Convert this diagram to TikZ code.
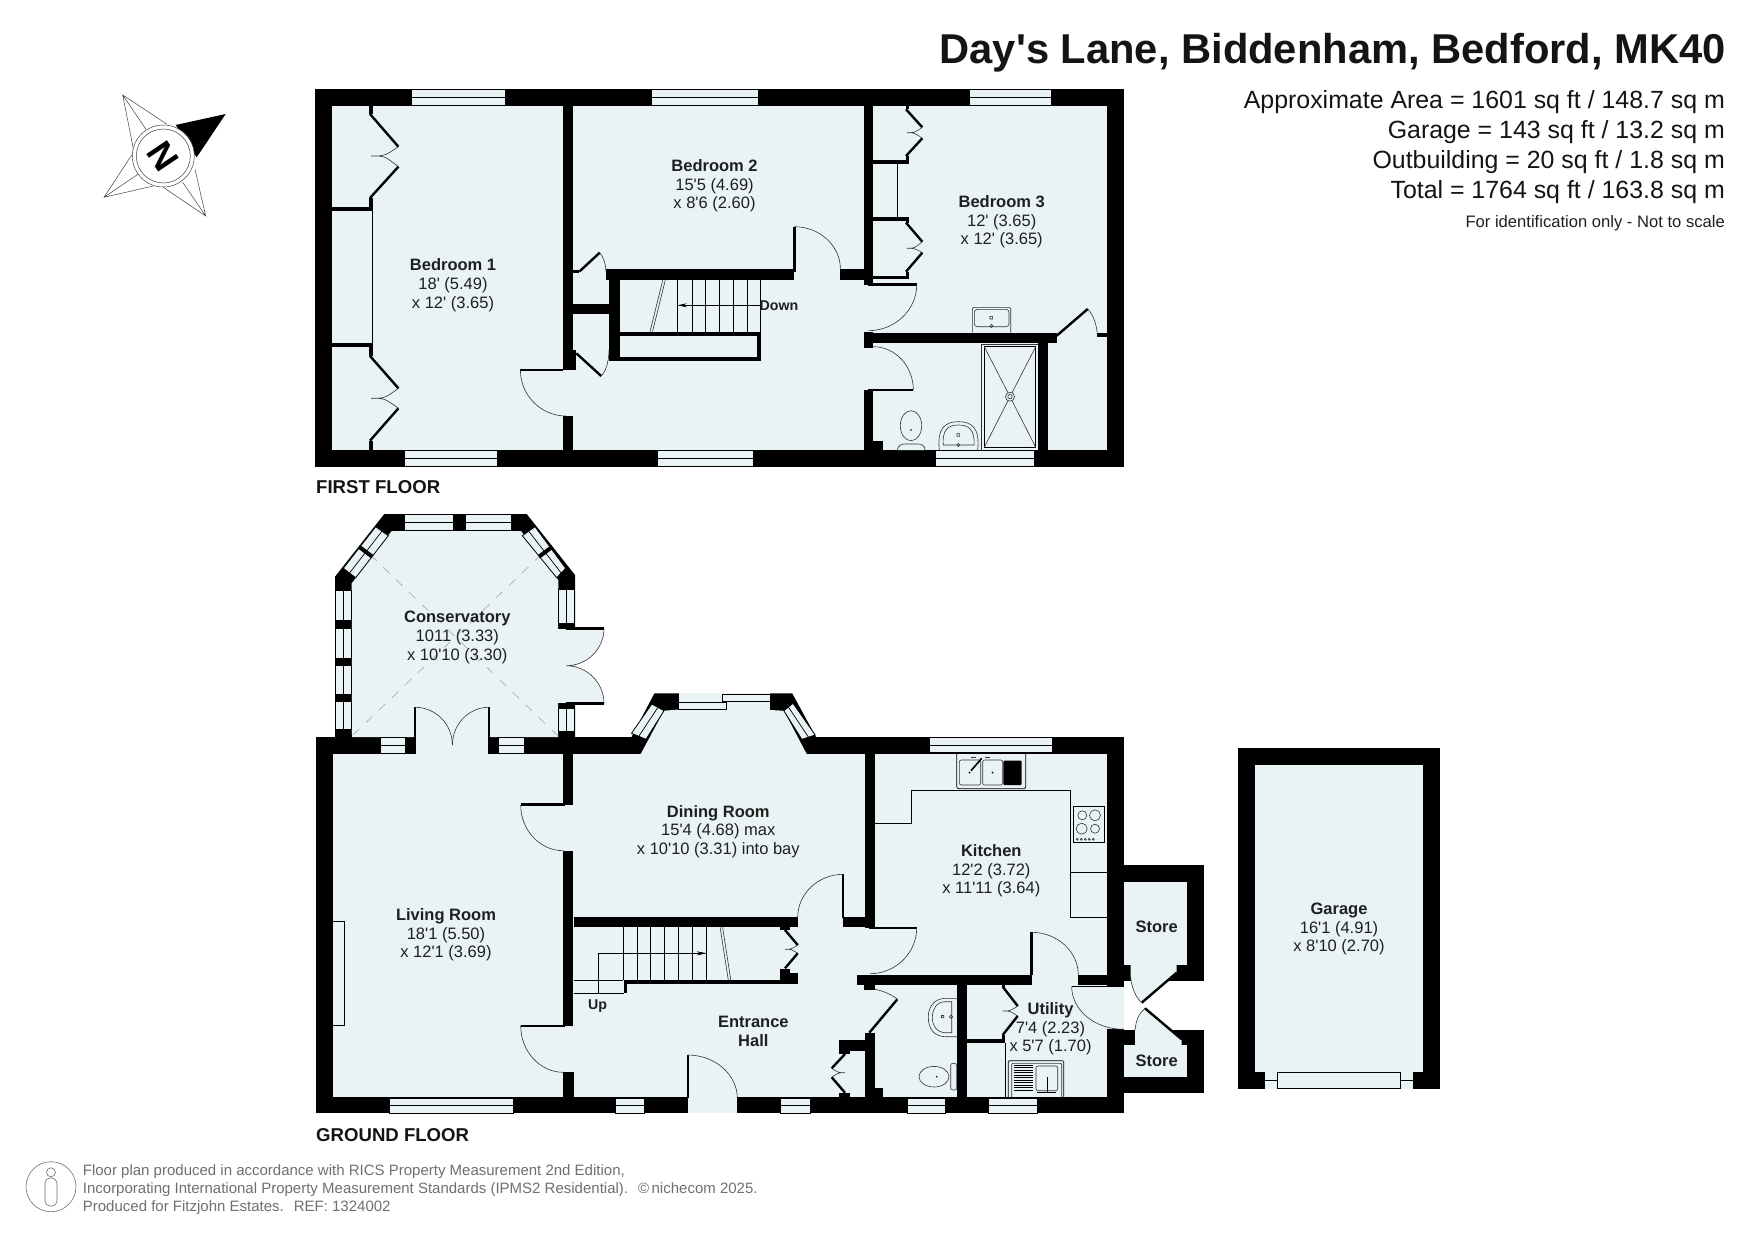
\documentclass[tikz,border=0pt]{standalone}
\usepackage{fontspec}
\setmainfont{Liberation Sans}[Ligatures=TeXOff]
\usetikzlibrary{arrows.meta, calc}
\definecolor{floortint}{HTML}{E9F3F5}
\definecolor{footgray}{HTML}{6F6F6F}
\tikzset{
  wallfill/.style={fill=black},
  floorfill/.style={fill=floortint},
  thinline/.style={draw=black, line width=0.7pt},
  arcline/.style={draw=black!80, line width=0.6pt},
  leafline/.style={draw=black, line width=2.4pt},
  paneline/.style={draw=black, line width=0.8pt, fill=floortint},
  roomlabel/.style={font=\fontsize{16.5}{18.7}\selectfont, align=center, inner sep=0pt, yshift=-2.5pt, text=black!88},
  storelabel/.style={roomlabel, font=\fontsize{16.5}{18.7}\selectfont\bfseries},
  floorlabel/.style={font=\fontsize{18.6}{20}\selectfont\bfseries, anchor=west, inner sep=0pt, text=black!92},
  areatext/.style={font=\fontsize{24.9}{28}\selectfont, anchor=east, inner sep=0pt, text=black!92},
  footnote/.style={font=\fontsize{15}{18}\selectfont, anchor=west, inner sep=0pt, text=footgray}
}
% door swing: from a to b, bulging towards corner k
\newcommand{\swing}[6]{\draw[arcline] (#1,#2) .. controls ($(#1,#2)!0.55!(#5,#6)$) and ($(#3,#4)!0.55!(#5,#6)$) .. (#3,#4);}
% window: pane with a centre line
\newcommand{\hpane}[4]{\draw[paneline] (#1,#2) rectangle (#3,#4); \draw[thinline] (#1,{0.5*(#2+#4)}) -- (#3,{0.5*(#2+#4)});}
\newcommand{\vpane}[4]{\draw[paneline] (#1,#2) rectangle (#3,#4); \draw[thinline] ({0.5*(#1+#3)},#2) -- ({0.5*(#1+#3)},#4);}
% slanted window: outer edge a-b, inner edge c-d
\newcommand{\slantpane}[8]{\draw[paneline] (#1,#2) -- (#3,#4) -- (#7,#8) -- (#5,#6) -- cycle; \draw[thinline] ($(#1,#2)!0.5!(#5,#6)$) -- ($(#3,#4)!0.5!(#7,#8)$);}
% folding doors: wall x, fold x, tip x, then y of the five points
\newcommand{\bifold}[8]{
  \draw[leafline] (#1,#4) -- (#2,#5);
  \draw[arcline] (#2,#5) .. controls ({0.5*(#2+#3)},#6) .. (#3,#6) .. controls ({0.5*(#2+#3)},#6) .. (#2,#7);
  \draw[leafline] (#2,#7) -- (#1,#8);
}
\newcommand{\room}[6]{\node[roomlabel] (#1) at (#2,#3) {\textbf{#4}\\#5\\#6};}

\begin{document}
\begin{tikzpicture}[x=1pt,y=-1pt]
\useasboundingbox (0,0) rectangle (1755,1241);

% Title and areas
\node[font=\fontsize{41.7}{44}\selectfont\bfseries, anchor=east, inner sep=0pt, text=black!92] (title) at (1726,52.8) {Day's Lane, Biddenham, Bedford, MK40};
\node[areatext] (areamain) at (1725,101.8) {Approximate Area = 1601 sq ft / 148.7 sq m};
\node[areatext] (areagarage) at (1725,132.5) {Garage = 143 sq ft / 13.2 sq m};
\node[areatext] (areaout) at (1725,162.3) {Outbuilding = 20 sq ft / 1.8 sq m};
\node[areatext] (areatotal) at (1725,192.3) {Total = 1764 sq ft / 163.8 sq m};
\node[font=\fontsize{16.6}{19}\selectfont, anchor=east, inner sep=0pt, text=black!88] (areanote) at (1725,223.5) {For identification only - Not to scale};

% Compass
\fill[black] (175.7,125) -- (225.7,114) -- (196.7,157.3) -- cycle;
\foreach \tx/\ty/\ax/\ay/\bx/\by/\cx/\cy in {122.7/95/166.7/124/133.3/148.3/146/129.3,
    104/197.3/131.7/155/153.3/186/138.3/174,
    205.7/216/163.3/187.3/195/169.3/182.7/182.3} {
  \draw[black!75, line width=0.5pt] (\ax,\ay) -- (\tx,\ty) -- (\bx,\by) (\tx,\ty) -- (\cx,\cy);
}
\draw[black!75, line width=0.5pt, fill=white] (163.3,156) circle (31);
\draw[black!75, line width=0.5pt] (163.3,156) circle (27);
\node[font=\fontsize{36}{36}\selectfont\bfseries, rotate=-56, inner sep=0pt] (north) at (163.3,156) {N};

% ---- First floor ----
\fill[wallfill] (315.3,89) rectangle (1124,466.7);
\fill[floorfill] (331.8,105.7) rectangle (1107,450);
\foreach \xa/\ya/\xb/\yb in {563.3/105.7/572.9/370, 572.9/350/576.3/370, 563.3/416/572.9/450,
    606/269/793.7/280, 609/280/619.6/360.7, 609/357/761/360.7, 757.3/335/761/360.7,
    619.6/331.7/761/335.7, 573/304/609/313.7, 573/270.5/579.4/273,
    840.4/269/864/280, 864/105.7/873.3/285, 864/331.7/873.3/347.7, 864/332.7/1056.7/343.3,
    1097.3/333/1107/336.7, 1038.3/343/1047.7/450, 864/390/873.3/450, 873.3/440.7/882.7/450,
    369/105.7/372.7/114, 369/198/372.7/206.7, 331.8/206.7/372.7/210.7,
    331.8/342.7/372.7/346.7, 369/346.7/372.7/356, 369/440.7/372.7/450,
    905.7/105.7/909/109.3, 873.3/160/909/164, 905.7/156/909/160,
    873.3/216.7/909/220.7, 905.7/220.7/909/222.7, 905.7/271.7/909/275.7, 873.3/275.7/909/279.3} {
  \fill[wallfill] (\xa,\ya) rectangle (\xb,\yb);
}
% windows
\foreach \xa/\xb in {411.7/505.1, 651/758, 969/1051} { \hpane{\xa}{89.5}{\xb}{105.3} }
\foreach \xa/\xb in {404.5/497, 657/753, 935/1034} { \hpane{\xa}{450}{\xb}{466.5} }
% wardrobes
\draw[thinline] (372.7,210.7) -- (372.7,342.7);
\draw[thinline] (897.3,164) -- (897.3,216.7);
\bifold{370}{398.4}{371}{114}{146.7}{156}{166.7}{198}
\bifold{370}{398.4}{371}{356}{388.3}{398.3}{408.3}{440.7}
\bifold{906}{922.3}{906.7}{109.3}{127.3}{132.7}{138.3}{156}
\bifold{906}{922.3}{906.7}{222.7}{241.7}{248.3}{252.7}{271.7}
% doors
\draw[leafline] (520.4,370) -- (563.3,370);
\swing{520.4}{370}{566}{416}{520.4}{416}
\draw[leafline] (794.4,226.7) -- (794.4,272);
\swing{794.4}{226.7}{840.4}{269}{840.4}{226.7}
\draw[leafline] (868.3,284.3) -- (916.7,284.3);
\swing{916.7}{284.7}{868.3}{330.7}{916.7}{330.7}
\draw[leafline] (868.3,390) -- (913.3,390);
\swing{873.3}{346.7}{913.3}{390}{913.3}{346.7}
\draw[leafline] (1056.7,335.7) -- (1087.7,309);
\swing{1087.7}{309}{1097.3}{335.7}{1097.3}{318}
\draw[leafline] (579.4,271.5) -- (599.7,252.7);
\swing{599.7}{252.7}{606}{271.7}{606}{259}
\draw[leafline] (576.3,353.3) -- (601.2,376);
\swing{601.2}{376}{609}{350}{609}{370}
% stairs
\foreach \x in {677.7,691.9,705.7,719.8,733.2,747,760.7} { \draw[thinline] (\x,280) -- (\x,331.7); }
\draw[thinline, -{Stealth[length=9pt,width=4pt]}] (760.7,305.3) -- (677.7,305.3);
\draw[arcline] (662.8,280) -- (650,331.7) (665.3,280) -- (652.5,331.7);
\node[font=\fontsize{14.2}{16}\selectfont\bfseries, inner sep=0pt, text=black!88] (down) at (779,305.3) {Down};
% bedroom 3 basin
\draw[arcline, rounded corners=2pt] (972.3,332.7) -- (972.3,307.3) -- (1010.7,307.3) -- (1010.7,332.7);
\draw[arcline, rounded corners=3pt] (974.3,309.3) rectangle (1009,326.7);
\draw[arcline] (990,316.3) rectangle (992.6,319) (991.3,326) circle (1.6);
% shower
\draw[arcline] (981.7,450) -- (981.7,344) -- (1038.3,344);
\draw[thinline] (984.3,346.7) rectangle (1035.7,447.3);
\draw[arcline] (984.3,346.7) -- (1010,396.7) -- (1035.7,346.7) (984.3,447.3) -- (1010,396.7) -- (1035.7,447.3);
\draw[arcline, fill=floortint] (1010,396.7) circle (4.5);
\draw[arcline] (1010,396.7) circle (2.2);
% bathroom basin and wc
\draw[arcline] (939.3,450) .. controls (937,428) and (945,421.7) .. (958.5,421.7) .. controls (972,421.7) and (980,428) .. (977.7,450);
\draw[arcline] (943.3,445) .. controls (942,430) and (948,425) .. (958.5,425) .. controls (969,425) and (975,430) .. (974,445) -- cycle;
\draw[arcline] (957,433.7) rectangle (959.6,436.3) (958.3,445) circle (1.6);
\draw[arcline] (911,425.7) ellipse (10.7 and 15);
\fill[black] (911,430) circle (0.9);
\draw[arcline, fill=floortint] (897.3,450) .. controls (898,445) and (902,444) .. (905,444) -- (917,444) .. controls (921,444) and (925,445) .. (925,450);

\node[floorlabel] (firstfloor) at (316,487) {FIRST FLOOR};
\room{bedone}{453}{282.7}{Bedroom 1}{18' (5.49)}{x 12' (3.65)}
\room{bedtwo}{714.5}{183.3}{Bedroom 2}{15'5 (4.69)}{x 8'6 (2.60)}
\room{bedthree}{1001.7}{219.3}{Bedroom 3}{12' (3.65)}{x 12' (3.65)}

% ---- Ground floor ----
% outer shells
\fill[wallfill] (316,737) rectangle (1124,1113.3);
\fill[wallfill] (335,737) -- (335,576.7) -- (384.3,514) -- (526.7,514) -- (575,575) -- (575,737) -- cycle;
\fill[wallfill] (631.5,737) -- (654.4,693.3) -- (792.2,693.3) -- (816,737) -- cycle;
\fill[wallfill] (1124,865) rectangle (1204,980.7);
\fill[wallfill] (1124,1030) rectangle (1204,1092.7);
% floors
\fill[floorfill] (333,754) rectangle (1107.3,1097.3);
\fill[floorfill] (352,737) -- (351.7,583.3) -- (391.7,531) -- (521,531) -- (558.3,580) -- (558,737) -- cycle;
\fill[floorfill] (640.7,754) -- (664,710.7) -- (678.5,709.5) -- (770,710) -- (783.8,710.7) -- (806.7,754) -- cycle;
\fill[floorfill] (678.5,693.3) rectangle (770,710);
\fill[floorfill] (415,737) rectangle (488.7,754);
\fill[floorfill] (688.3,1097) rectangle (737.3,1113.3);
\fill[floorfill] (1107,986.7) rectangle (1124,1029.3);
\fill[floorfill] (1124,882.3) rectangle (1187.3,965);
\fill[floorfill] (1124,1045) rectangle (1187.3,1076.7);
\fill[floorfill] (1130.7,965) -- (1176.7,965) -- (1176.7,972.7) -- (1141.7,1002.7) .. controls (1135,997) and (1131,985) .. (1130.7,977) -- cycle;
\fill[floorfill] (1135,1045) -- (1135,1030) .. controls (1136,1020) and (1139,1013) .. (1145,1008.3) -- (1181.7,1039.3) -- (1181.7,1045) -- cycle;
\fill[floorfill] (558,629) rectangle (574.8,703);
\fill[floorfill] (574.8,628.3) -- (604,628.3) .. controls (604,649) and (587,665.7) .. (566.4,665.7) .. controls (587,665.7) and (604,683) .. (604,703.3) -- (574.8,703.3) -- cycle;
% inner walls
\foreach \xa/\ya/\xb/\yb in {563.3/754/573.3/805, 563.3/850.7/573.3/1025.7, 563.3/1072.3/574/1097.3,
    574/917.3/797.7/926.7, 843.3/917.3/865/926.7, 865/754/875/927.7,
    856.7/974.5/1032.3/984.5, 864/984/875/990, 865/1033.3/875/1097.3,
    839.3/1040/865/1051, 839.3/1051/850/1054, 839.3/1093/850/1098, 875/1088.3/882.7/1098,
    957.3/984/966.7/1098, 966.7/1039.3/1005/1043.3, 1001.7/984/1005/987, 1001.7/1035/1005/1039.3,
    1078.3/975/1107.3/985, 624/980/798/984, 624/984/626.7/993.3,
    780/973.3/798/980, 780/969.3/790/973.3, 780/926.7/790/930} {
  \fill[wallfill] (\xa,\ya) rectangle (\xb,\yb);
}
% conservatory windows
\foreach \xa/\xb in {404/453.3, 465/511.7} { \hpane{\xa}{514}{\xb}{530.7} }
\foreach \ya/\yb in {590.7/620, 628.3/658.3, 665/694, 701/729.3} { \vpane{335}{\ya}{351.3}{\yb} }
\foreach \ya/\yb in {589.3/623.3, 708.3/731} { \vpane{558.8}{\ya}{574.5}{\yb} }
\slantpane{375.7}{526.7}{343.3}{568.3}{388.3}{535.7}{355.7}{577.7}
\slantpane{535}{526.7}{565.7}{568.3}{522.3}{535.7}{556.7}{577.7}
\draw[leafline, line width=4pt] (359,546.7) -- (372.3,556.7);
\draw[leafline, line width=4pt] (552.3,546.7) -- (539,556.7);
\draw[black!35, line width=0.6pt, dash pattern=on 9pt off 9pt] (353,735) -- (539,556.7) (558,736) -- (372.3,556.7);
% bay windows
\slantpane{651.8}{704}{631.5}{733.3}{664}{710.7}{646}{739.3}
\slantpane{793}{703.3}{815.2}{735}{783.8}{710.7}{801.8}{739.3}
\draw[paneline] (678.5,702.3) rectangle (726,709.3);
\draw[paneline] (722.5,694.3) rectangle (770,701.7);
% other windows
\foreach \xa/\xb in {380.8/405.7, 498.7/524.3} { \hpane{\xa}{737.5}{\xb}{753.3} }
\hpane{929}{737.3}{1052.3}{752.7}
\foreach \xa/\xb in {389/513, 615/644.3, 780/810, 907.7/945, 988/1037.3} { \hpane{\xa}{1098}{\xb}{1113.3} }
% conservatory doors
\draw[leafline] (566.4,628.3) -- (604,628.3);
\draw[leafline] (566.4,703.3) -- (604,703.3);
\draw[arcline] (604,628.3) .. controls (604,649) and (587,665.7) .. (566.4,665.7) .. controls (587,665.7) and (604,683) .. (604,703.3);
\draw[leafline, line width=1.8pt] (415.2,707.3) -- (415.2,754);
\draw[leafline, line width=1.8pt] (488.7,707.3) -- (488.7,754);
\swing{415.2}{707.3}{452.4}{745}{452.4}{707.3}
\swing{488.7}{707.3}{452.4}{745}{452.4}{707.3}
% doors
\draw[leafline] (520.7,804.5) -- (565,804.5);
\swing{520.7}{805}{563.3}{850.7}{520.7}{850.7}
\draw[leafline] (520.7,1025.7) -- (565,1025.7);
\swing{520.7}{1025.7}{563.3}{1072.3}{520.7}{1072.3}
\draw[leafline, line width=1.8pt] (843.3,874.3) -- (843.3,918);
\swing{843.3}{874.3}{797.7}{917.3}{797.7}{874.3}
\draw[leafline] (869.3,927.7) -- (916.7,927.7);
\swing{916.7}{927.7}{870}{973.7}{916.7}{973.7}
\draw[leafline] (897.3,999.3) -- (869.3,1032.7);
\swing{875}{989.3}{897.3}{999.3}{890}{992}
\draw[leafline, line width=1.8pt] (688,1055) -- (688,1098);
\swing{687.7}{1055}{737.3}{1098.3}{737.3}{1055}
\draw[leafline] (1031.5,932.3) -- (1031.5,975);
\swing{1031.5}{932.3}{1078.3}{975}{1078.3}{932.3}
\draw[leafline, line width=1pt] (1071.7,986.7) -- (1123.3,986.7);
\swing{1071.7}{986.7}{1123.3}{1029.3}{1071.7}{1029.3}
\draw[leafline] (1176.7,972.7) -- (1141.7,1002.7);
\draw[arcline] (1141.7,1002.7) .. controls (1135,997) and (1131,985) .. (1130.7,977);
\draw[leafline] (1181.7,1039.3) -- (1145,1008.3);
\draw[arcline] (1145,1008.3) .. controls (1139,1013) and (1136,1020) .. (1135,1030);
% folding doors
\bifold{785}{797.7}{785}{930}{945}{949.3}{953.3}{968.3}
\bifold{845}{831.7}{845}{1054}{1068.3}{1072.7}{1077.3}{1092.7}
\bifold{1002.7}{1017.7}{1002.7}{986.7}{1006}{1011}{1016}{1035}
% stairs
\foreach \x in {623.3,637.7,650.7,664.7,678.7,692.7,706.7} { \draw[thinline] (\x,926.7) -- (\x,980); }
\draw[thinline, -{Stealth[length=10pt,width=4pt]}] (598.7,993.3) -- (598.7,953.3) -- (706.7,953.3);
\draw[thinline] (574,980) -- (623.3,980) (574,993.3) -- (624,993.3);
\draw[arcline] (720,926.7) -- (728.3,980) (722.5,926.7) -- (730.8,980);
\node[font=\fontsize{14.2}{16}\selectfont\bfseries, inner sep=0pt, text=black!88] (up) at (597.7,1006) {Up};
% utility cupboard edge
\draw[thinline] (1005,1043.3) -- (1005,1097.7);
% living room fireplace
\draw[thinline] (333,921.3) -- (344.7,921.3) -- (344.7,1025.3) -- (333,1025.3);
% kitchen units
\draw[thinline] (875,823.3) -- (911.7,823.3) -- (911.7,790.3) -- (1070.7,790.3) -- (1070.7,917.3) -- (1107.3,917.3);
\draw[thinline] (1070.7,872.3) -- (1107.3,872.3);
\draw[thinline, rounded corners=2pt] (956.7,754) -- (956.7,788.7) -- (1025.7,788.7) -- (1025.7,754);
\draw[arcline, rounded corners=2pt] (959.3,760) rectangle (980.7,785);
\draw[arcline, rounded corners=2pt] (982.7,760) rectangle (1002.7,785);
\fill[black, rounded corners=1pt] (1003.3,760.7) rectangle (1021.7,785);
\draw[line width=1.6pt, black] (981.7,758.3) -- (971,770.7);
\draw[arcline] (971,757.5) -- (976,757.5) (985,757.5) -- (990,757.5);
\foreach \x in {969.5,992.5} { \fill[black] (\x,772.7) circle (1); }
% hob
\draw[thinline] (1073.7,806.3) rectangle (1104.3,842.3);
\draw[arcline] (1082.3,815.3) circle (4.5) (1095,815.3) circle (5.5) (1081.7,828.7) circle (5.5) (1095,828.7) circle (4.5);
\foreach \x in {1077.3,1081.3,1085.3,1089.3,1093.3} { \draw[arcline] (\x,839.3) circle (1); }
% wc basin
\draw[arcline] (957.3,998.3) -- (945,998.3) .. controls (933,999) and (928.3,1008) .. (928.3,1017) .. controls (928.3,1028) and (933,1036) .. (945,1036.7) -- (957.3,1036.7);
\draw[arcline] (951.7,1001.7) -- (945,1001.7) .. controls (936,1002) and (932.3,1010) .. (932.3,1017) .. controls (932.3,1025) and (936,1032) .. (945,1032.7) -- (951.7,1032.7) -- cycle;
\draw[arcline] (941.5,1015.5) rectangle (943.7,1017.7) (951,1016.7) circle (1.7);
% wc
\draw[arcline] (934,1076.7) ellipse (15 and 10.3);
\fill[black] (936.7,1076.7) circle (0.9);
\draw[arcline, fill=floortint, rounded corners=2pt] (950.7,1090) -- (950.7,1063.3) -- (956.7,1063.3) -- (956.7,1090) -- cycle;
% utility sink
\draw[thinline, rounded corners=1pt] (1008.3,1097.7) -- (1008.3,1060.7) -- (1063.7,1060.7) -- (1063.7,1097.7);
\draw[arcline, rounded corners=1pt] (1011.7,1097.7) -- (1011.7,1063.3) -- (1061.7,1063.3) -- (1061.7,1097.7);
\foreach \y in {1065,1067.5,...,1090} { \draw[black, line width=0.5pt] (1014.3,\y) -- (1033.3,\y); }
\draw[arcline, rounded corners=2pt] (1036,1066) rectangle (1057.7,1090.7);
\draw[line width=1pt, black] (1047,1077) -- (1047,1093);
\draw[line width=1pt, black] (1037,1092.5) -- (1056,1092.5);
% garage
\fill[wallfill] (1238,748) rectangle (1440,1088.7);
\fill[floorfill] (1255,765) rectangle (1423,1072);
\fill[floorfill] (1265,1072) rectangle (1412.7,1088.7);
\draw[line width=1pt, black, fill=floortint] (1277.3,1072.3) rectangle (1400.3,1088.3);
\draw[thinline] (1265,1080.7) -- (1277.3,1080.7) (1400.3,1080.7) -- (1412.7,1080.7);

\node[floorlabel] (groundfloor) at (316,1135.5) {GROUND FLOOR};
\room{conserv}{457.3}{635}{Conservatory}{1011 (3.33)}{x 10'10 (3.30)}
\room{dining}{718.3}{829}{Dining Room}{15'4 (4.68) max}{x 10'10 (3.31) into bay}
\room{living}{446}{932.3}{Living Room}{18'1 (5.50)}{x 12'1 (3.69)}
\room{kitchen}{991.3}{868.3}{Kitchen}{12'2 (3.72)}{x 11'11 (3.64)}
\room{utility}{1050.5}{1026.5}{Utility}{7'4 (2.23)}{x 5'7 (1.70)}
\room{garage}{1339}{926.7}{Garage}{16'1 (4.91)}{x 8'10 (2.70)}
\node[storelabel] (hall) at (753.3,1029) {Entrance\\Hall};
\node[storelabel] (storeup) at (1156.7,924.3) {Store};
\node[storelabel] (storelow) at (1156.7,1058.3) {Store};

% Footer
\draw[footgray, line width=0.6pt] (51,1186.7) circle (25);
\draw[footgray, line width=0.6pt] (51,1172.3) circle (4.5);
\draw[footgray, line width=0.6pt, rounded corners=5pt] (45,1178) rectangle (57,1206);
\node[footnote] (footone) at (82.7,1171.5) {Floor plan produced in accordance with RICS Property Measurement 2nd Edition,};
\node[footnote] (foottwo) at (82.7,1189.5) {Incorporating International Property Measurement Standards (IPMS2 Residential).\hspace{10pt}©\,nichecom 2025.};
\node[footnote] (footthree) at (82.7,1207.5) {Produced for Fitzjohn Estates.\hspace{10pt}REF: 1324002};
\end{tikzpicture}
\end{document}
